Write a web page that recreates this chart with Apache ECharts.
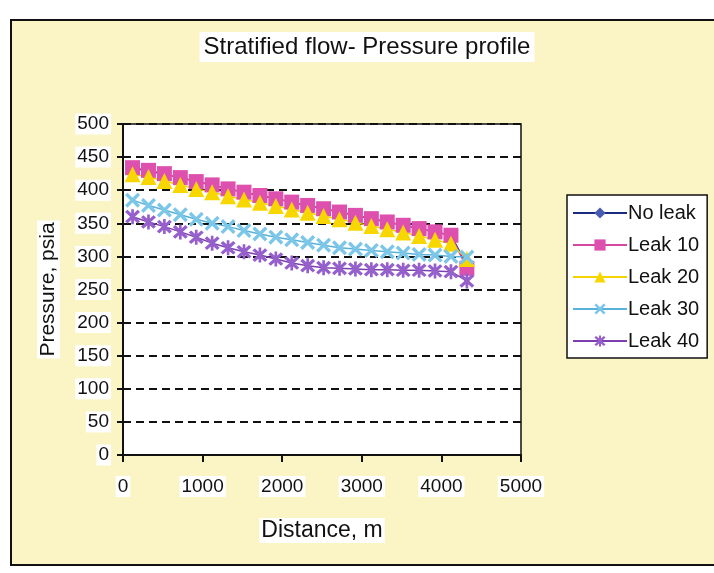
<!DOCTYPE html>
<html>
<head>
<meta charset="utf-8">
<script src="https://cdn.jsdelivr.net/npm/echarts@6/dist/echarts.min.js"></script>
<style>
  html, body { margin: 0; padding: 0; background: #ffffff; }
  #chart { width: 714px; height: 573px; }
</style>
</head>
<body>
<div id="chart"></div>
<script>
// Distance along the pipeline (m)
const distance = [120, 320, 520, 720, 920, 1120, 1320, 1520, 1720, 1920, 2120,
                  2320, 2520, 2720, 2920, 3120, 3320, 3520, 3720, 3920, 4120, 4320];

// Pressure (psia) at each distance
const noLeak = [433, 429, 424, 419, 413, 408, 402, 397, 392, 387, 382,
                377, 372, 367, 362, 357, 352, 347, 342, 337, 332, 287];
const leak10 = [434, 430, 425, 419, 413, 408, 402, 397, 392, 387, 382,
                377, 372, 367, 362, 357, 352, 347, 342, 337, 332, 282];
const leak20 = [424, 420, 414, 408, 402, 397, 391, 386, 381, 376, 371,
                366, 361, 356, 351, 346, 341, 336, 331, 325, 319, 296];
const leak30 = [385, 377, 370, 363, 356, 350, 345, 339, 334, 329, 325,
                321, 317, 313, 311, 309, 307, 305, 303, 302, 300, 299];
const leak40 = [360, 352, 345, 337, 329, 320, 313, 307, 302, 296, 290,
                286, 283, 282, 281, 280, 280, 279, 279, 278, 277, 263];

const yTicks = [0, 50, 100, 150, 200, 250, 300, 350, 400, 450, 500];
const xTicks = [0, 1000, 2000, 3000, 4000, 5000];

const seriesNames = ['No leak', 'Leak 10', 'Leak 20', 'Leak 30', 'Leak 40'];
const seriesValues = [noLeak, leak10, leak20, leak30, leak40];

// Marker shapes: diamond, square, triangle, bold cross, bold asterisk
const crossPath = 'path://M0,1.6L1.6,0L5,3.4L8.4,0L10,1.6L6.6,5L10,8.4L8.4,10L5,6.6L1.6,10L0,8.4L3.4,5Z';
const starPath = 'path://M0,1.6L1.6,0L5,3.4L8.4,0L10,1.6L6.6,5L10,8.4L8.4,10L5,6.6L1.6,10L0,8.4L3.4,5Z' +
                 'M4.1,-0.5L5.9,-0.5L5.9,10.5L4.1,10.5Z';
const styles = [
  { line: '#1c2a80', fill: '#4a5cb0', symbol: 'diamond', size: 13 },
  { line: '#d8479f', fill: '#dd50ad', symbol: 'rect', size: 15 },
  { line: '#f2d400', fill: '#f8d600', symbol: 'triangle', size: 16 },
  { line: '#5ab2dc', fill: '#7cc6e8', symbol: crossPath, size: 15 },
  { line: '#7d3fb0', fill: '#9660cc', symbol: starPath, size: 15 }
];

const font = '"Liberation Sans", Arial, sans-serif';
const labelBg = { backgroundColor: '#ffffff', padding: [1, 2] };
const plainNumber = v => String(v);

const series = seriesNames.map((name, i) => ({
  name: name,
  type: 'line',
  data: distance.map((d, j) => [d, seriesValues[i][j]]),
  symbol: styles[i].symbol,
  symbolSize: styles[i].size,
  showAllSymbol: true,
  lineStyle: { color: styles[i].line, width: 1.5 },
  itemStyle: { color: styles[i].fill, borderWidth: 0 },
  emphasis: { disabled: true },
  animation: false
}));

const chart = echarts.init(document.getElementById('chart'), null, { renderer: 'canvas' });
chart.setOption({
  backgroundColor: '#ffffff',
  animation: false,
  graphic: [{
    type: 'rect',
    z: -10,
    shape: { x: 11, y: 20, width: 720, height: 545 },
    style: { fill: '#fbf5c6', stroke: '#111111', lineWidth: 2 }
  }],
  title: {
    text: 'Stratified flow- Pressure profile',
    left: 363, top: 32,
    textAlign: 'center',
    backgroundColor: '#ffffff',
    padding: [3, 4],
    textStyle: { fontFamily: font, fontSize: 24, fontWeight: 'normal', color: '#111111' }
  },
  legend: {
    orient: 'vertical',
    left: 567, top: 195,
    width: 142,
    padding: [8, 8, 7, 5],
    itemGap: 12,
    itemWidth: 54, itemHeight: 14,
    backgroundColor: '#ffffff',
    borderColor: '#111111', borderWidth: 1.5,
    data: seriesNames,
    textStyle: { fontFamily: font, fontSize: 20, color: '#111111', padding: [0, 0, 0, -4] }
  },
  grid: {
    left: 123, top: 124, width: 398, height: 331,
    show: true, backgroundColor: '#ffffff',
    borderColor: '#111111', borderWidth: 1.5
  },
  xAxis: {
    type: 'value',
    min: xTicks[0], max: xTicks[xTicks.length - 1], interval: 1000,
    name: 'Distance, m',
    nameLocation: 'middle', nameGap: 63,
    nameTextStyle: Object.assign({ fontFamily: font, fontSize: 23, color: '#111111' }, labelBg),
    axisLine: { lineStyle: { color: '#111111', width: 2 } },
    axisTick: { length: 7, lineStyle: { color: '#111111', width: 2 } },
    axisLabel: Object.assign({
      margin: 21, fontFamily: font, fontSize: 19, color: '#111111', formatter: plainNumber
    }, labelBg),
    splitLine: { show: false }
  },
  yAxis: {
    type: 'value',
    min: yTicks[0], max: yTicks[yTicks.length - 1], interval: 50,
    name: 'Pressure, psia',
    nameLocation: 'middle', nameGap: 63, nameRotate: 90,
    nameTextStyle: Object.assign({ fontFamily: font, fontSize: 21, color: '#111111' }, labelBg),
    axisLine: { lineStyle: { color: '#111111', width: 2 } },
    axisTick: { length: 6, lineStyle: { color: '#111111', width: 2 } },
    axisLabel: Object.assign({
      margin: 12, fontFamily: font, fontSize: 19, color: '#111111', formatter: plainNumber
    }, labelBg),
    splitLine: { show: true, lineStyle: { color: '#111111', width: 2, type: [8, 5] } }
  },
  series: series
});
</script>
</body>
</html>
